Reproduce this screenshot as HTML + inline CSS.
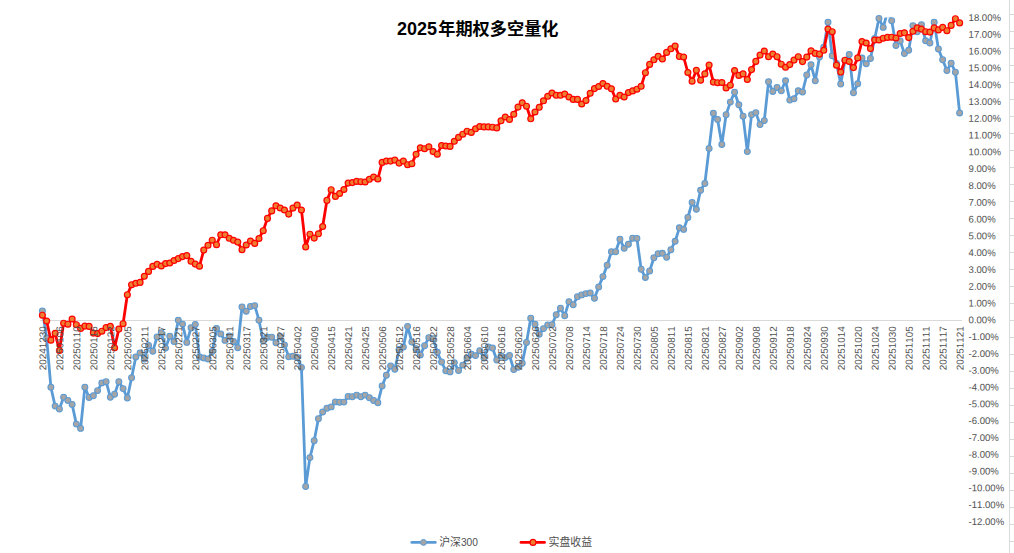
<!DOCTYPE html><html><head><meta charset="utf-8"><title>2025年期权多空量化</title><style>html,body{margin:0;padding:0;background:#fff;}svg{display:block;}.ax{font-family:"Liberation Sans","Noto Sans CJK SC",sans-serif;fill:#505050;font-kerning:none;}</style></head><body>
<svg width="1014" height="553" viewBox="0 0 1014 553">
<rect x="0" y="0" width="1014" height="553" fill="#fff"/>
<defs><clipPath id="pc"><rect x="0" y="17.4" width="1014" height="535.6"/></clipPath></defs>
<g stroke="#d9d9d9" stroke-width="1" fill="none" shape-rendering="crispEdges">
<line x1="1009.5" y1="0" x2="1009.5" y2="553"/>
<path d="M1010 14.5H1014M1010 31.5H1014M1010 48.5H1014M1010 65.5H1014M1010 82.5H1014M1010 99.5H1014M1010 116.5H1014M1010 133.5H1014M1010 150.5H1014M1010 167.5H1014M1010 184.5H1014M1010 201.5H1014M1010 218.5H1014M1010 235.5H1014M1010 252.5H1014M1010 269.5H1014M1010 286.5H1014M1010 303.5H1014M1010 320.5H1014M1010 337.5H1014M1010 354.5H1014M1010 371.5H1014M1010 388.5H1014M1010 405.5H1014M1010 422.5H1014M1010 439.5H1014M1010 456.5H1014M1010 473.5H1014M1010 490.5H1014M1010 507.5H1014M1010 524.5H1014M1010 541.5H1014"/>
<line x1="40.3" y1="320.5" x2="961.9" y2="320.5"/>
</g>
<polyline clip-path="url(#pc)" points="42.4,310.9 46.65,338 50.89,387.2 55.14,406.1 59.39,409 63.63,397.2 67.88,400.4 72.13,404.4 76.37,424.1 80.62,428.4 84.87,387.2 89.11,397.5 93.36,395.8 97.6,390.6 101.85,382.9 106.1,381.7 110.34,397.2 114.59,394.2 118.84,381.7 123.08,388.6 127.33,398 131.58,377.8 135.82,357 140.07,352.9 144.32,359 148.56,345.4 152.81,351.3 157.06,336.9 161.3,332.8 165.55,348.1 169.8,336.3 174.04,341.6 178.29,320.3 182.53,324.1 186.78,342.4 191.03,327.8 195.27,324.4 199.52,357 203.77,358 208.01,359 212.26,351.5 216.51,328.5 220.75,333.9 225,340.4 229.25,336 233.49,341.4 237.74,347.7 241.99,307 246.23,311.2 250.48,306.5 254.73,305.6 258.97,320.2 263.22,341 267.46,337.3 271.71,337.3 275.96,342.7 280.2,336.4 284.45,344.9 288.7,356.7 292.94,356.3 297.19,357.4 301.44,367.4 305.68,486.5 309.93,457.6 314.18,440.7 318.42,418.8 322.67,412 326.92,408.2 331.16,406.9 335.41,401.9 339.65,402.3 343.9,402.1 348.15,396.4 352.39,396.8 356.64,395.1 360.89,396.7 365.13,395.1 369.38,397.8 373.63,400.5 377.87,402.8 382.12,385.9 386.37,375.2 390.61,366 394.86,369.2 399.11,349.5 403.35,347.1 407.6,326.4 411.85,342 416.09,348.8 420.34,354.9 424.58,345.7 428.83,337.7 433.08,338.6 437.32,352.2 441.57,362 445.82,370.8 450.06,371.9 454.31,362.6 458.56,370.5 462.8,365.1 467.05,358.3 471.3,354.2 475.54,355.6 479.79,350.8 484.04,358 488.28,346.9 492.53,348 496.78,360 501.02,356 505.27,357.6 509.51,355.5 513.76,369.5 518.01,367.3 522.25,363.3 526.5,342.4 530.75,318.2 534.99,324.2 539.24,334.3 543.49,328.6 547.73,325 551.98,324.7 556.23,314.7 560.47,308.2 564.72,315.7 568.97,301.7 573.21,304.7 577.46,296.8 581.71,294.9 585.95,293.6 590.2,293 594.45,298.2 598.69,286.9 602.94,276.6 607.18,265.2 611.43,251.7 615.68,251.7 619.92,239.2 624.17,248.3 628.42,244.3 632.66,238.2 636.91,238.4 641.16,269.2 645.4,277.6 649.65,271 653.9,257.7 658.14,253.7 662.39,253.3 666.64,257.3 670.88,249.7 675.13,241.3 679.38,227.8 683.62,229.4 687.87,217.5 692.11,202.5 696.36,209.3 700.61,190.3 704.85,183.5 709.1,148.4 713.35,113.2 717.59,119.5 721.84,144.5 726.09,114.7 730.33,102.1 734.58,92.2 738.83,104.8 743.07,116.2 747.32,151.6 751.57,114.7 755.81,112.6 760.06,124.5 764.3,120.6 768.55,81.7 772.8,91.4 777.04,87.4 781.29,90.8 785.54,80.8 789.78,100.1 794.03,98.8 798.28,90.8 802.52,91.9 806.77,75 811.02,64.8 815.26,80.7 819.51,57 823.76,47.3 828,22.3 832.25,55.8 836.5,63.5 840.74,84 844.99,60.4 849.24,54.6 853.48,92.7 857.73,83.8 861.97,58.1 866.22,63.8 870.47,58.5 874.71,38.5 878.96,18.5 883.21,27.4 887.45,12 891.7,20.7 895.95,45.4 900.19,41 904.44,53.6 908.69,50.3 912.93,25.6 917.18,31.7 921.43,24.7 925.67,40.8 929.92,43 934.16,22.3 938.41,49 942.66,59.7 946.9,70.6 951.15,63.2 955.4,72.2 959.64,112.9" fill="none" stroke="#5b9bd5" stroke-width="2.8" stroke-linejoin="round" stroke-linecap="round"/>
<g fill="#a5a5a5" stroke="#5b9bd5" stroke-width="1.05">
<circle cx="42.4" cy="310.9" r="2.95"/>
<circle cx="46.65" cy="338" r="2.95"/>
<circle cx="50.89" cy="387.2" r="2.95"/>
<circle cx="55.14" cy="406.1" r="2.95"/>
<circle cx="59.39" cy="409" r="2.95"/>
<circle cx="63.63" cy="397.2" r="2.95"/>
<circle cx="67.88" cy="400.4" r="2.95"/>
<circle cx="72.13" cy="404.4" r="2.95"/>
<circle cx="76.37" cy="424.1" r="2.95"/>
<circle cx="80.62" cy="428.4" r="2.95"/>
<circle cx="84.87" cy="387.2" r="2.95"/>
<circle cx="89.11" cy="397.5" r="2.95"/>
<circle cx="93.36" cy="395.8" r="2.95"/>
<circle cx="97.6" cy="390.6" r="2.95"/>
<circle cx="101.85" cy="382.9" r="2.95"/>
<circle cx="106.1" cy="381.7" r="2.95"/>
<circle cx="110.34" cy="397.2" r="2.95"/>
<circle cx="114.59" cy="394.2" r="2.95"/>
<circle cx="118.84" cy="381.7" r="2.95"/>
<circle cx="123.08" cy="388.6" r="2.95"/>
<circle cx="127.33" cy="398" r="2.95"/>
<circle cx="131.58" cy="377.8" r="2.95"/>
<circle cx="135.82" cy="357" r="2.95"/>
<circle cx="140.07" cy="352.9" r="2.95"/>
<circle cx="144.32" cy="359" r="2.95"/>
<circle cx="148.56" cy="345.4" r="2.95"/>
<circle cx="152.81" cy="351.3" r="2.95"/>
<circle cx="157.06" cy="336.9" r="2.95"/>
<circle cx="161.3" cy="332.8" r="2.95"/>
<circle cx="165.55" cy="348.1" r="2.95"/>
<circle cx="169.8" cy="336.3" r="2.95"/>
<circle cx="174.04" cy="341.6" r="2.95"/>
<circle cx="178.29" cy="320.3" r="2.95"/>
<circle cx="182.53" cy="324.1" r="2.95"/>
<circle cx="186.78" cy="342.4" r="2.95"/>
<circle cx="191.03" cy="327.8" r="2.95"/>
<circle cx="195.27" cy="324.4" r="2.95"/>
<circle cx="199.52" cy="357" r="2.95"/>
<circle cx="203.77" cy="358" r="2.95"/>
<circle cx="208.01" cy="359" r="2.95"/>
<circle cx="212.26" cy="351.5" r="2.95"/>
<circle cx="216.51" cy="328.5" r="2.95"/>
<circle cx="220.75" cy="333.9" r="2.95"/>
<circle cx="225" cy="340.4" r="2.95"/>
<circle cx="229.25" cy="336" r="2.95"/>
<circle cx="233.49" cy="341.4" r="2.95"/>
<circle cx="237.74" cy="347.7" r="2.95"/>
<circle cx="241.99" cy="307" r="2.95"/>
<circle cx="246.23" cy="311.2" r="2.95"/>
<circle cx="250.48" cy="306.5" r="2.95"/>
<circle cx="254.73" cy="305.6" r="2.95"/>
<circle cx="258.97" cy="320.2" r="2.95"/>
<circle cx="263.22" cy="341" r="2.95"/>
<circle cx="267.46" cy="337.3" r="2.95"/>
<circle cx="271.71" cy="337.3" r="2.95"/>
<circle cx="275.96" cy="342.7" r="2.95"/>
<circle cx="280.2" cy="336.4" r="2.95"/>
<circle cx="284.45" cy="344.9" r="2.95"/>
<circle cx="288.7" cy="356.7" r="2.95"/>
<circle cx="292.94" cy="356.3" r="2.95"/>
<circle cx="297.19" cy="357.4" r="2.95"/>
<circle cx="301.44" cy="367.4" r="2.95"/>
<circle cx="305.68" cy="486.5" r="2.95"/>
<circle cx="309.93" cy="457.6" r="2.95"/>
<circle cx="314.18" cy="440.7" r="2.95"/>
<circle cx="318.42" cy="418.8" r="2.95"/>
<circle cx="322.67" cy="412" r="2.95"/>
<circle cx="326.92" cy="408.2" r="2.95"/>
<circle cx="331.16" cy="406.9" r="2.95"/>
<circle cx="335.41" cy="401.9" r="2.95"/>
<circle cx="339.65" cy="402.3" r="2.95"/>
<circle cx="343.9" cy="402.1" r="2.95"/>
<circle cx="348.15" cy="396.4" r="2.95"/>
<circle cx="352.39" cy="396.8" r="2.95"/>
<circle cx="356.64" cy="395.1" r="2.95"/>
<circle cx="360.89" cy="396.7" r="2.95"/>
<circle cx="365.13" cy="395.1" r="2.95"/>
<circle cx="369.38" cy="397.8" r="2.95"/>
<circle cx="373.63" cy="400.5" r="2.95"/>
<circle cx="377.87" cy="402.8" r="2.95"/>
<circle cx="382.12" cy="385.9" r="2.95"/>
<circle cx="386.37" cy="375.2" r="2.95"/>
<circle cx="390.61" cy="366" r="2.95"/>
<circle cx="394.86" cy="369.2" r="2.95"/>
<circle cx="399.11" cy="349.5" r="2.95"/>
<circle cx="403.35" cy="347.1" r="2.95"/>
<circle cx="407.6" cy="326.4" r="2.95"/>
<circle cx="411.85" cy="342" r="2.95"/>
<circle cx="416.09" cy="348.8" r="2.95"/>
<circle cx="420.34" cy="354.9" r="2.95"/>
<circle cx="424.58" cy="345.7" r="2.95"/>
<circle cx="428.83" cy="337.7" r="2.95"/>
<circle cx="433.08" cy="338.6" r="2.95"/>
<circle cx="437.32" cy="352.2" r="2.95"/>
<circle cx="441.57" cy="362" r="2.95"/>
<circle cx="445.82" cy="370.8" r="2.95"/>
<circle cx="450.06" cy="371.9" r="2.95"/>
<circle cx="454.31" cy="362.6" r="2.95"/>
<circle cx="458.56" cy="370.5" r="2.95"/>
<circle cx="462.8" cy="365.1" r="2.95"/>
<circle cx="467.05" cy="358.3" r="2.95"/>
<circle cx="471.3" cy="354.2" r="2.95"/>
<circle cx="475.54" cy="355.6" r="2.95"/>
<circle cx="479.79" cy="350.8" r="2.95"/>
<circle cx="484.04" cy="358" r="2.95"/>
<circle cx="488.28" cy="346.9" r="2.95"/>
<circle cx="492.53" cy="348" r="2.95"/>
<circle cx="496.78" cy="360" r="2.95"/>
<circle cx="501.02" cy="356" r="2.95"/>
<circle cx="505.27" cy="357.6" r="2.95"/>
<circle cx="509.51" cy="355.5" r="2.95"/>
<circle cx="513.76" cy="369.5" r="2.95"/>
<circle cx="518.01" cy="367.3" r="2.95"/>
<circle cx="522.25" cy="363.3" r="2.95"/>
<circle cx="526.5" cy="342.4" r="2.95"/>
<circle cx="530.75" cy="318.2" r="2.95"/>
<circle cx="534.99" cy="324.2" r="2.95"/>
<circle cx="539.24" cy="334.3" r="2.95"/>
<circle cx="543.49" cy="328.6" r="2.95"/>
<circle cx="547.73" cy="325" r="2.95"/>
<circle cx="551.98" cy="324.7" r="2.95"/>
<circle cx="556.23" cy="314.7" r="2.95"/>
<circle cx="560.47" cy="308.2" r="2.95"/>
<circle cx="564.72" cy="315.7" r="2.95"/>
<circle cx="568.97" cy="301.7" r="2.95"/>
<circle cx="573.21" cy="304.7" r="2.95"/>
<circle cx="577.46" cy="296.8" r="2.95"/>
<circle cx="581.71" cy="294.9" r="2.95"/>
<circle cx="585.95" cy="293.6" r="2.95"/>
<circle cx="590.2" cy="293" r="2.95"/>
<circle cx="594.45" cy="298.2" r="2.95"/>
<circle cx="598.69" cy="286.9" r="2.95"/>
<circle cx="602.94" cy="276.6" r="2.95"/>
<circle cx="607.18" cy="265.2" r="2.95"/>
<circle cx="611.43" cy="251.7" r="2.95"/>
<circle cx="615.68" cy="251.7" r="2.95"/>
<circle cx="619.92" cy="239.2" r="2.95"/>
<circle cx="624.17" cy="248.3" r="2.95"/>
<circle cx="628.42" cy="244.3" r="2.95"/>
<circle cx="632.66" cy="238.2" r="2.95"/>
<circle cx="636.91" cy="238.4" r="2.95"/>
<circle cx="641.16" cy="269.2" r="2.95"/>
<circle cx="645.4" cy="277.6" r="2.95"/>
<circle cx="649.65" cy="271" r="2.95"/>
<circle cx="653.9" cy="257.7" r="2.95"/>
<circle cx="658.14" cy="253.7" r="2.95"/>
<circle cx="662.39" cy="253.3" r="2.95"/>
<circle cx="666.64" cy="257.3" r="2.95"/>
<circle cx="670.88" cy="249.7" r="2.95"/>
<circle cx="675.13" cy="241.3" r="2.95"/>
<circle cx="679.38" cy="227.8" r="2.95"/>
<circle cx="683.62" cy="229.4" r="2.95"/>
<circle cx="687.87" cy="217.5" r="2.95"/>
<circle cx="692.11" cy="202.5" r="2.95"/>
<circle cx="696.36" cy="209.3" r="2.95"/>
<circle cx="700.61" cy="190.3" r="2.95"/>
<circle cx="704.85" cy="183.5" r="2.95"/>
<circle cx="709.1" cy="148.4" r="2.95"/>
<circle cx="713.35" cy="113.2" r="2.95"/>
<circle cx="717.59" cy="119.5" r="2.95"/>
<circle cx="721.84" cy="144.5" r="2.95"/>
<circle cx="726.09" cy="114.7" r="2.95"/>
<circle cx="730.33" cy="102.1" r="2.95"/>
<circle cx="734.58" cy="92.2" r="2.95"/>
<circle cx="738.83" cy="104.8" r="2.95"/>
<circle cx="743.07" cy="116.2" r="2.95"/>
<circle cx="747.32" cy="151.6" r="2.95"/>
<circle cx="751.57" cy="114.7" r="2.95"/>
<circle cx="755.81" cy="112.6" r="2.95"/>
<circle cx="760.06" cy="124.5" r="2.95"/>
<circle cx="764.3" cy="120.6" r="2.95"/>
<circle cx="768.55" cy="81.7" r="2.95"/>
<circle cx="772.8" cy="91.4" r="2.95"/>
<circle cx="777.04" cy="87.4" r="2.95"/>
<circle cx="781.29" cy="90.8" r="2.95"/>
<circle cx="785.54" cy="80.8" r="2.95"/>
<circle cx="789.78" cy="100.1" r="2.95"/>
<circle cx="794.03" cy="98.8" r="2.95"/>
<circle cx="798.28" cy="90.8" r="2.95"/>
<circle cx="802.52" cy="91.9" r="2.95"/>
<circle cx="806.77" cy="75" r="2.95"/>
<circle cx="811.02" cy="64.8" r="2.95"/>
<circle cx="815.26" cy="80.7" r="2.95"/>
<circle cx="819.51" cy="57" r="2.95"/>
<circle cx="823.76" cy="47.3" r="2.95"/>
<circle cx="828" cy="22.3" r="2.95"/>
<circle cx="832.25" cy="55.8" r="2.95"/>
<circle cx="836.5" cy="63.5" r="2.95"/>
<circle cx="840.74" cy="84" r="2.95"/>
<circle cx="844.99" cy="60.4" r="2.95"/>
<circle cx="849.24" cy="54.6" r="2.95"/>
<circle cx="853.48" cy="92.7" r="2.95"/>
<circle cx="857.73" cy="83.8" r="2.95"/>
<circle cx="861.97" cy="58.1" r="2.95"/>
<circle cx="866.22" cy="63.8" r="2.95"/>
<circle cx="870.47" cy="58.5" r="2.95"/>
<circle cx="874.71" cy="38.5" r="2.95"/>
<circle cx="878.96" cy="18.5" r="2.95"/>
<circle cx="883.21" cy="27.4" r="2.95"/>
<circle cx="891.7" cy="20.7" r="2.95"/>
<circle cx="895.95" cy="45.4" r="2.95"/>
<circle cx="900.19" cy="41" r="2.95"/>
<circle cx="904.44" cy="53.6" r="2.95"/>
<circle cx="908.69" cy="50.3" r="2.95"/>
<circle cx="912.93" cy="25.6" r="2.95"/>
<circle cx="917.18" cy="31.7" r="2.95"/>
<circle cx="921.43" cy="24.7" r="2.95"/>
<circle cx="925.67" cy="40.8" r="2.95"/>
<circle cx="929.92" cy="43" r="2.95"/>
<circle cx="934.16" cy="22.3" r="2.95"/>
<circle cx="938.41" cy="49" r="2.95"/>
<circle cx="942.66" cy="59.7" r="2.95"/>
<circle cx="946.9" cy="70.6" r="2.95"/>
<circle cx="951.15" cy="63.2" r="2.95"/>
<circle cx="955.4" cy="72.2" r="2.95"/>
<circle cx="959.64" cy="112.9" r="2.95"/>
</g>
<polyline clip-path="url(#pc)" points="42.4,315.2 46.65,321 50.89,340.2 55.14,333.3 59.39,350.5 63.63,323.2 67.88,324.2 72.13,319 76.37,324.7 80.62,328.4 84.87,326.1 89.11,326.4 93.36,333.1 97.6,333.6 101.85,331.2 106.1,327.6 110.34,326.3 114.59,347.8 118.84,329.1 123.08,323.7 127.33,294.7 131.58,284.7 135.82,283.3 140.07,282.4 144.32,276.3 148.56,271.4 152.81,266.4 157.06,264.3 161.3,266 165.55,263.6 169.8,263 174.04,260.5 178.29,258.6 182.53,256.6 186.78,255.6 191.03,261.3 195.27,264.1 199.52,266.2 203.77,250.1 208.01,245.3 212.26,240.2 216.51,244.7 220.75,234.8 225,234.8 229.25,238.3 233.49,240.3 237.74,242.1 241.99,249.7 246.23,245 250.48,241 254.73,243.4 258.97,238.5 263.22,230.7 267.46,218.4 271.71,210.9 275.96,205.8 280.2,208 284.45,210 288.7,214.1 292.94,208.1 297.19,205 301.44,210 305.68,246.9 309.93,234.2 314.18,238.1 318.42,233.8 322.67,226.5 326.92,200.4 331.16,189.7 335.41,196.4 339.65,193.5 343.9,189.5 348.15,183.1 352.39,182.6 356.64,181.4 360.89,181.7 365.13,182 369.38,179.3 373.63,177 377.87,179 382.12,162.4 386.37,161.1 390.61,161.1 394.86,160.1 399.11,163.1 403.35,161.1 407.6,164.7 411.85,163.7 416.09,154.3 420.34,147.8 424.58,148.7 428.83,146.8 433.08,151.6 437.32,154.2 441.57,145.5 445.82,146 450.06,146.4 454.31,141.3 458.56,137.4 462.8,134.2 467.05,131.2 471.3,132.4 475.54,128.8 479.79,126.5 484.04,126.9 488.28,126.9 492.53,127.2 496.78,127.9 501.02,120.8 505.27,117 509.51,119.5 513.76,114.3 518.01,107.1 522.25,102.8 526.5,106.2 530.75,118.8 534.99,112 539.24,107.3 543.49,100.8 547.73,96.3 551.98,93 556.23,95.3 560.47,95.3 564.72,94 568.97,97 573.21,99.4 577.46,99.4 581.71,104 585.95,100.5 590.2,93.3 594.45,88.6 598.69,86.5 602.94,83.5 607.18,86.3 611.43,88.8 615.68,99 619.92,95.3 624.17,97 628.42,92.6 632.66,90.9 636.91,89.2 641.16,86.3 645.4,72.7 649.65,64.4 653.9,59.8 658.14,56.3 662.39,59 666.64,52.4 670.88,48.8 675.13,46.1 679.38,56.4 683.62,57 687.87,72.5 692.11,81.2 696.36,70.3 700.61,80.2 704.85,73.9 709.1,65.1 713.35,82.1 717.59,82.7 721.84,82.5 726.09,87.9 730.33,85.2 734.58,70.5 738.83,75.4 743.07,73.9 747.32,79.5 751.57,69.6 755.81,61.4 760.06,55.1 764.3,51 768.55,56.7 772.8,54 777.04,56.7 781.29,64.2 785.54,67.3 789.78,64.6 794.03,60.1 798.28,56.7 802.52,61.6 806.77,57.1 811.02,50.9 815.26,53.4 819.51,54.1 823.76,50.3 828,29 832.25,31.7 836.5,65.2 840.74,72.1 844.99,60.2 849.24,61.5 853.48,67.6 857.73,57.9 861.97,41.5 866.22,43 870.47,48.6 874.71,40 878.96,40 883.21,38.2 887.45,37.4 891.7,37.2 895.95,38 900.19,33.5 904.44,32.8 908.69,37.6 912.93,31.3 917.18,27.9 921.43,29.1 925.67,31.7 929.92,32.1 934.16,27.9 938.41,29.9 942.66,27.4 946.9,30.7 951.15,25.4 955.4,18.7 959.64,22.9" fill="none" stroke="#ff0000" stroke-width="2.8" stroke-linejoin="round" stroke-linecap="round"/>
<g fill="#ed7d31" stroke="#ff0000" stroke-width="1.2">
<circle cx="42.4" cy="315.2" r="2.95"/>
<circle cx="46.65" cy="321" r="2.95"/>
<circle cx="50.89" cy="340.2" r="2.95"/>
<circle cx="55.14" cy="333.3" r="2.95"/>
<circle cx="59.39" cy="350.5" r="2.95"/>
<circle cx="63.63" cy="323.2" r="2.95"/>
<circle cx="67.88" cy="324.2" r="2.95"/>
<circle cx="72.13" cy="319" r="2.95"/>
<circle cx="76.37" cy="324.7" r="2.95"/>
<circle cx="80.62" cy="328.4" r="2.95"/>
<circle cx="84.87" cy="326.1" r="2.95"/>
<circle cx="89.11" cy="326.4" r="2.95"/>
<circle cx="93.36" cy="333.1" r="2.95"/>
<circle cx="97.6" cy="333.6" r="2.95"/>
<circle cx="101.85" cy="331.2" r="2.95"/>
<circle cx="106.1" cy="327.6" r="2.95"/>
<circle cx="110.34" cy="326.3" r="2.95"/>
<circle cx="114.59" cy="347.8" r="2.95"/>
<circle cx="118.84" cy="329.1" r="2.95"/>
<circle cx="123.08" cy="323.7" r="2.95"/>
<circle cx="127.33" cy="294.7" r="2.95"/>
<circle cx="131.58" cy="284.7" r="2.95"/>
<circle cx="135.82" cy="283.3" r="2.95"/>
<circle cx="140.07" cy="282.4" r="2.95"/>
<circle cx="144.32" cy="276.3" r="2.95"/>
<circle cx="148.56" cy="271.4" r="2.95"/>
<circle cx="152.81" cy="266.4" r="2.95"/>
<circle cx="157.06" cy="264.3" r="2.95"/>
<circle cx="161.3" cy="266" r="2.95"/>
<circle cx="165.55" cy="263.6" r="2.95"/>
<circle cx="169.8" cy="263" r="2.95"/>
<circle cx="174.04" cy="260.5" r="2.95"/>
<circle cx="178.29" cy="258.6" r="2.95"/>
<circle cx="182.53" cy="256.6" r="2.95"/>
<circle cx="186.78" cy="255.6" r="2.95"/>
<circle cx="191.03" cy="261.3" r="2.95"/>
<circle cx="195.27" cy="264.1" r="2.95"/>
<circle cx="199.52" cy="266.2" r="2.95"/>
<circle cx="203.77" cy="250.1" r="2.95"/>
<circle cx="208.01" cy="245.3" r="2.95"/>
<circle cx="212.26" cy="240.2" r="2.95"/>
<circle cx="216.51" cy="244.7" r="2.95"/>
<circle cx="220.75" cy="234.8" r="2.95"/>
<circle cx="225" cy="234.8" r="2.95"/>
<circle cx="229.25" cy="238.3" r="2.95"/>
<circle cx="233.49" cy="240.3" r="2.95"/>
<circle cx="237.74" cy="242.1" r="2.95"/>
<circle cx="241.99" cy="249.7" r="2.95"/>
<circle cx="246.23" cy="245" r="2.95"/>
<circle cx="250.48" cy="241" r="2.95"/>
<circle cx="254.73" cy="243.4" r="2.95"/>
<circle cx="258.97" cy="238.5" r="2.95"/>
<circle cx="263.22" cy="230.7" r="2.95"/>
<circle cx="267.46" cy="218.4" r="2.95"/>
<circle cx="271.71" cy="210.9" r="2.95"/>
<circle cx="275.96" cy="205.8" r="2.95"/>
<circle cx="280.2" cy="208" r="2.95"/>
<circle cx="284.45" cy="210" r="2.95"/>
<circle cx="288.7" cy="214.1" r="2.95"/>
<circle cx="292.94" cy="208.1" r="2.95"/>
<circle cx="297.19" cy="205" r="2.95"/>
<circle cx="301.44" cy="210" r="2.95"/>
<circle cx="305.68" cy="246.9" r="2.95"/>
<circle cx="309.93" cy="234.2" r="2.95"/>
<circle cx="314.18" cy="238.1" r="2.95"/>
<circle cx="318.42" cy="233.8" r="2.95"/>
<circle cx="322.67" cy="226.5" r="2.95"/>
<circle cx="326.92" cy="200.4" r="2.95"/>
<circle cx="331.16" cy="189.7" r="2.95"/>
<circle cx="335.41" cy="196.4" r="2.95"/>
<circle cx="339.65" cy="193.5" r="2.95"/>
<circle cx="343.9" cy="189.5" r="2.95"/>
<circle cx="348.15" cy="183.1" r="2.95"/>
<circle cx="352.39" cy="182.6" r="2.95"/>
<circle cx="356.64" cy="181.4" r="2.95"/>
<circle cx="360.89" cy="181.7" r="2.95"/>
<circle cx="365.13" cy="182" r="2.95"/>
<circle cx="369.38" cy="179.3" r="2.95"/>
<circle cx="373.63" cy="177" r="2.95"/>
<circle cx="377.87" cy="179" r="2.95"/>
<circle cx="382.12" cy="162.4" r="2.95"/>
<circle cx="386.37" cy="161.1" r="2.95"/>
<circle cx="390.61" cy="161.1" r="2.95"/>
<circle cx="394.86" cy="160.1" r="2.95"/>
<circle cx="399.11" cy="163.1" r="2.95"/>
<circle cx="403.35" cy="161.1" r="2.95"/>
<circle cx="407.6" cy="164.7" r="2.95"/>
<circle cx="411.85" cy="163.7" r="2.95"/>
<circle cx="416.09" cy="154.3" r="2.95"/>
<circle cx="420.34" cy="147.8" r="2.95"/>
<circle cx="424.58" cy="148.7" r="2.95"/>
<circle cx="428.83" cy="146.8" r="2.95"/>
<circle cx="433.08" cy="151.6" r="2.95"/>
<circle cx="437.32" cy="154.2" r="2.95"/>
<circle cx="441.57" cy="145.5" r="2.95"/>
<circle cx="445.82" cy="146" r="2.95"/>
<circle cx="450.06" cy="146.4" r="2.95"/>
<circle cx="454.31" cy="141.3" r="2.95"/>
<circle cx="458.56" cy="137.4" r="2.95"/>
<circle cx="462.8" cy="134.2" r="2.95"/>
<circle cx="467.05" cy="131.2" r="2.95"/>
<circle cx="471.3" cy="132.4" r="2.95"/>
<circle cx="475.54" cy="128.8" r="2.95"/>
<circle cx="479.79" cy="126.5" r="2.95"/>
<circle cx="484.04" cy="126.9" r="2.95"/>
<circle cx="488.28" cy="126.9" r="2.95"/>
<circle cx="492.53" cy="127.2" r="2.95"/>
<circle cx="496.78" cy="127.9" r="2.95"/>
<circle cx="501.02" cy="120.8" r="2.95"/>
<circle cx="505.27" cy="117" r="2.95"/>
<circle cx="509.51" cy="119.5" r="2.95"/>
<circle cx="513.76" cy="114.3" r="2.95"/>
<circle cx="518.01" cy="107.1" r="2.95"/>
<circle cx="522.25" cy="102.8" r="2.95"/>
<circle cx="526.5" cy="106.2" r="2.95"/>
<circle cx="530.75" cy="118.8" r="2.95"/>
<circle cx="534.99" cy="112" r="2.95"/>
<circle cx="539.24" cy="107.3" r="2.95"/>
<circle cx="543.49" cy="100.8" r="2.95"/>
<circle cx="547.73" cy="96.3" r="2.95"/>
<circle cx="551.98" cy="93" r="2.95"/>
<circle cx="556.23" cy="95.3" r="2.95"/>
<circle cx="560.47" cy="95.3" r="2.95"/>
<circle cx="564.72" cy="94" r="2.95"/>
<circle cx="568.97" cy="97" r="2.95"/>
<circle cx="573.21" cy="99.4" r="2.95"/>
<circle cx="577.46" cy="99.4" r="2.95"/>
<circle cx="581.71" cy="104" r="2.95"/>
<circle cx="585.95" cy="100.5" r="2.95"/>
<circle cx="590.2" cy="93.3" r="2.95"/>
<circle cx="594.45" cy="88.6" r="2.95"/>
<circle cx="598.69" cy="86.5" r="2.95"/>
<circle cx="602.94" cy="83.5" r="2.95"/>
<circle cx="607.18" cy="86.3" r="2.95"/>
<circle cx="611.43" cy="88.8" r="2.95"/>
<circle cx="615.68" cy="99" r="2.95"/>
<circle cx="619.92" cy="95.3" r="2.95"/>
<circle cx="624.17" cy="97" r="2.95"/>
<circle cx="628.42" cy="92.6" r="2.95"/>
<circle cx="632.66" cy="90.9" r="2.95"/>
<circle cx="636.91" cy="89.2" r="2.95"/>
<circle cx="641.16" cy="86.3" r="2.95"/>
<circle cx="645.4" cy="72.7" r="2.95"/>
<circle cx="649.65" cy="64.4" r="2.95"/>
<circle cx="653.9" cy="59.8" r="2.95"/>
<circle cx="658.14" cy="56.3" r="2.95"/>
<circle cx="662.39" cy="59" r="2.95"/>
<circle cx="666.64" cy="52.4" r="2.95"/>
<circle cx="670.88" cy="48.8" r="2.95"/>
<circle cx="675.13" cy="46.1" r="2.95"/>
<circle cx="679.38" cy="56.4" r="2.95"/>
<circle cx="683.62" cy="57" r="2.95"/>
<circle cx="687.87" cy="72.5" r="2.95"/>
<circle cx="692.11" cy="81.2" r="2.95"/>
<circle cx="696.36" cy="70.3" r="2.95"/>
<circle cx="700.61" cy="80.2" r="2.95"/>
<circle cx="704.85" cy="73.9" r="2.95"/>
<circle cx="709.1" cy="65.1" r="2.95"/>
<circle cx="713.35" cy="82.1" r="2.95"/>
<circle cx="717.59" cy="82.7" r="2.95"/>
<circle cx="721.84" cy="82.5" r="2.95"/>
<circle cx="726.09" cy="87.9" r="2.95"/>
<circle cx="730.33" cy="85.2" r="2.95"/>
<circle cx="734.58" cy="70.5" r="2.95"/>
<circle cx="738.83" cy="75.4" r="2.95"/>
<circle cx="743.07" cy="73.9" r="2.95"/>
<circle cx="747.32" cy="79.5" r="2.95"/>
<circle cx="751.57" cy="69.6" r="2.95"/>
<circle cx="755.81" cy="61.4" r="2.95"/>
<circle cx="760.06" cy="55.1" r="2.95"/>
<circle cx="764.3" cy="51" r="2.95"/>
<circle cx="768.55" cy="56.7" r="2.95"/>
<circle cx="772.8" cy="54" r="2.95"/>
<circle cx="777.04" cy="56.7" r="2.95"/>
<circle cx="781.29" cy="64.2" r="2.95"/>
<circle cx="785.54" cy="67.3" r="2.95"/>
<circle cx="789.78" cy="64.6" r="2.95"/>
<circle cx="794.03" cy="60.1" r="2.95"/>
<circle cx="798.28" cy="56.7" r="2.95"/>
<circle cx="802.52" cy="61.6" r="2.95"/>
<circle cx="806.77" cy="57.1" r="2.95"/>
<circle cx="811.02" cy="50.9" r="2.95"/>
<circle cx="815.26" cy="53.4" r="2.95"/>
<circle cx="819.51" cy="54.1" r="2.95"/>
<circle cx="823.76" cy="50.3" r="2.95"/>
<circle cx="828" cy="29" r="2.95"/>
<circle cx="832.25" cy="31.7" r="2.95"/>
<circle cx="836.5" cy="65.2" r="2.95"/>
<circle cx="840.74" cy="72.1" r="2.95"/>
<circle cx="844.99" cy="60.2" r="2.95"/>
<circle cx="849.24" cy="61.5" r="2.95"/>
<circle cx="853.48" cy="67.6" r="2.95"/>
<circle cx="857.73" cy="57.9" r="2.95"/>
<circle cx="861.97" cy="41.5" r="2.95"/>
<circle cx="866.22" cy="43" r="2.95"/>
<circle cx="870.47" cy="48.6" r="2.95"/>
<circle cx="874.71" cy="40" r="2.95"/>
<circle cx="878.96" cy="40" r="2.95"/>
<circle cx="883.21" cy="38.2" r="2.95"/>
<circle cx="887.45" cy="37.4" r="2.95"/>
<circle cx="891.7" cy="37.2" r="2.95"/>
<circle cx="895.95" cy="38" r="2.95"/>
<circle cx="900.19" cy="33.5" r="2.95"/>
<circle cx="904.44" cy="32.8" r="2.95"/>
<circle cx="908.69" cy="37.6" r="2.95"/>
<circle cx="912.93" cy="31.3" r="2.95"/>
<circle cx="917.18" cy="27.9" r="2.95"/>
<circle cx="921.43" cy="29.1" r="2.95"/>
<circle cx="925.67" cy="31.7" r="2.95"/>
<circle cx="929.92" cy="32.1" r="2.95"/>
<circle cx="934.16" cy="27.9" r="2.95"/>
<circle cx="938.41" cy="29.9" r="2.95"/>
<circle cx="942.66" cy="27.4" r="2.95"/>
<circle cx="946.9" cy="30.7" r="2.95"/>
<circle cx="951.15" cy="25.4" r="2.95"/>
<circle cx="955.4" cy="18.7" r="2.95"/>
<circle cx="959.64" cy="22.9" r="2.95"/>
</g>
<g class="ax" font-size="9.9" text-anchor="end">
<text transform="translate(46.35,326.2) rotate(-90) scale(1.0,1) rotate(0.05)">20241230</text>
<text transform="translate(63.34,326.2) rotate(-90) scale(1.0,1) rotate(0.05)">20250106</text>
<text transform="translate(80.32,326.2) rotate(-90) scale(1.0,1) rotate(0.05)">20250110</text>
<text transform="translate(97.31,326.2) rotate(-90) scale(1.0,1) rotate(0.05)">20250116</text>
<text transform="translate(114.29,326.2) rotate(-90) scale(1.0,1) rotate(0.05)">20250122</text>
<text transform="translate(131.28,326.2) rotate(-90) scale(1.0,1) rotate(0.05)">20250205</text>
<text transform="translate(148.27,326.2) rotate(-90) scale(1.0,1) rotate(0.05)">20250211</text>
<text transform="translate(165.25,326.2) rotate(-90) scale(1.0,1) rotate(0.05)">20250217</text>
<text transform="translate(182.24,326.2) rotate(-90) scale(1.0,1) rotate(0.05)">20250221</text>
<text transform="translate(199.22,326.2) rotate(-90) scale(1.0,1) rotate(0.05)">20250227</text>
<text transform="translate(216.21,326.2) rotate(-90) scale(1.0,1) rotate(0.05)">20250305</text>
<text transform="translate(233.2,326.2) rotate(-90) scale(1.0,1) rotate(0.05)">20250311</text>
<text transform="translate(250.18,326.2) rotate(-90) scale(1.0,1) rotate(0.05)">20250317</text>
<text transform="translate(267.17,326.2) rotate(-90) scale(1.0,1) rotate(0.05)">20250321</text>
<text transform="translate(284.15,326.2) rotate(-90) scale(1.0,1) rotate(0.05)">20250327</text>
<text transform="translate(301.14,326.2) rotate(-90) scale(1.0,1) rotate(0.05)">20250402</text>
<text transform="translate(318.13,326.2) rotate(-90) scale(1.0,1) rotate(0.05)">20250409</text>
<text transform="translate(335.11,326.2) rotate(-90) scale(1.0,1) rotate(0.05)">20250415</text>
<text transform="translate(352.1,326.2) rotate(-90) scale(1.0,1) rotate(0.05)">20250421</text>
<text transform="translate(369.08,326.2) rotate(-90) scale(1.0,1) rotate(0.05)">20250425</text>
<text transform="translate(386.07,326.2) rotate(-90) scale(1.0,1) rotate(0.05)">20250506</text>
<text transform="translate(403.06,326.2) rotate(-90) scale(1.0,1) rotate(0.05)">20250512</text>
<text transform="translate(420.04,326.2) rotate(-90) scale(1.0,1) rotate(0.05)">20250516</text>
<text transform="translate(437.03,326.2) rotate(-90) scale(1.0,1) rotate(0.05)">20250522</text>
<text transform="translate(454.01,326.2) rotate(-90) scale(1.0,1) rotate(0.05)">20250528</text>
<text transform="translate(471,326.2) rotate(-90) scale(1.0,1) rotate(0.05)">20250604</text>
<text transform="translate(487.99,326.2) rotate(-90) scale(1.0,1) rotate(0.05)">20250610</text>
<text transform="translate(504.97,326.2) rotate(-90) scale(1.0,1) rotate(0.05)">20250616</text>
<text transform="translate(521.96,326.2) rotate(-90) scale(1.0,1) rotate(0.05)">20250620</text>
<text transform="translate(538.94,326.2) rotate(-90) scale(1.0,1) rotate(0.05)">20250626</text>
<text transform="translate(555.93,326.2) rotate(-90) scale(1.0,1) rotate(0.05)">20250702</text>
<text transform="translate(572.92,326.2) rotate(-90) scale(1.0,1) rotate(0.05)">20250708</text>
<text transform="translate(589.9,326.2) rotate(-90) scale(1.0,1) rotate(0.05)">20250714</text>
<text transform="translate(606.89,326.2) rotate(-90) scale(1.0,1) rotate(0.05)">20250718</text>
<text transform="translate(623.87,326.2) rotate(-90) scale(1.0,1) rotate(0.05)">20250724</text>
<text transform="translate(640.86,326.2) rotate(-90) scale(1.0,1) rotate(0.05)">20250730</text>
<text transform="translate(657.85,326.2) rotate(-90) scale(1.0,1) rotate(0.05)">20250805</text>
<text transform="translate(674.83,326.2) rotate(-90) scale(1.0,1) rotate(0.05)">20250811</text>
<text transform="translate(691.82,326.2) rotate(-90) scale(1.0,1) rotate(0.05)">20250815</text>
<text transform="translate(708.8,326.2) rotate(-90) scale(1.0,1) rotate(0.05)">20250821</text>
<text transform="translate(725.79,326.2) rotate(-90) scale(1.0,1) rotate(0.05)">20250827</text>
<text transform="translate(742.78,326.2) rotate(-90) scale(1.0,1) rotate(0.05)">20250902</text>
<text transform="translate(759.76,326.2) rotate(-90) scale(1.0,1) rotate(0.05)">20250908</text>
<text transform="translate(776.75,326.2) rotate(-90) scale(1.0,1) rotate(0.05)">20250912</text>
<text transform="translate(793.73,326.2) rotate(-90) scale(1.0,1) rotate(0.05)">20250918</text>
<text transform="translate(810.72,326.2) rotate(-90) scale(1.0,1) rotate(0.05)">20250924</text>
<text transform="translate(827.71,326.2) rotate(-90) scale(1.0,1) rotate(0.05)">20250930</text>
<text transform="translate(844.69,326.2) rotate(-90) scale(1.0,1) rotate(0.05)">20251014</text>
<text transform="translate(861.68,326.2) rotate(-90) scale(1.0,1) rotate(0.05)">20251020</text>
<text transform="translate(878.66,326.2) rotate(-90) scale(1.0,1) rotate(0.05)">20251024</text>
<text transform="translate(895.65,326.2) rotate(-90) scale(1.0,1) rotate(0.05)">20251030</text>
<text transform="translate(912.64,326.2) rotate(-90) scale(1.0,1) rotate(0.05)">20251105</text>
<text transform="translate(929.62,326.2) rotate(-90) scale(1.0,1) rotate(0.05)">20251111</text>
<text transform="translate(946.61,326.2) rotate(-90) scale(1.0,1) rotate(0.05)">20251117</text>
<text transform="translate(963.59,326.2) rotate(-90) scale(1.0,1) rotate(0.05)">20251121</text>
</g>
<g class="ax" font-size="9.8">
<text transform="translate(968.6,20.91) scale(0.975,1) rotate(0.05)">18.00%</text>
<text transform="translate(968.6,37.71) scale(0.975,1) rotate(0.05)">17.00%</text>
<text transform="translate(968.6,54.51) scale(0.975,1) rotate(0.05)">16.00%</text>
<text transform="translate(968.6,71.31) scale(0.975,1) rotate(0.05)">15.00%</text>
<text transform="translate(968.6,88.11) scale(0.975,1) rotate(0.05)">14.00%</text>
<text transform="translate(968.6,104.91) scale(0.975,1) rotate(0.05)">13.00%</text>
<text transform="translate(968.6,121.71) scale(0.975,1) rotate(0.05)">12.00%</text>
<text transform="translate(968.6,138.51) scale(0.975,1) rotate(0.05)">11.00%</text>
<text transform="translate(968.6,155.31) scale(0.975,1) rotate(0.05)">10.00%</text>
<text transform="translate(968.6,172.11) scale(0.975,1) rotate(0.05)">9.00%</text>
<text transform="translate(968.6,188.91) scale(0.975,1) rotate(0.05)">8.00%</text>
<text transform="translate(968.6,205.71) scale(0.975,1) rotate(0.05)">7.00%</text>
<text transform="translate(968.6,222.51) scale(0.975,1) rotate(0.05)">6.00%</text>
<text transform="translate(968.6,239.31) scale(0.975,1) rotate(0.05)">5.00%</text>
<text transform="translate(968.6,256.11) scale(0.975,1) rotate(0.05)">4.00%</text>
<text transform="translate(968.6,272.91) scale(0.975,1) rotate(0.05)">3.00%</text>
<text transform="translate(968.6,289.71) scale(0.975,1) rotate(0.05)">2.00%</text>
<text transform="translate(968.6,306.51) scale(0.975,1) rotate(0.05)">1.00%</text>
<text transform="translate(968.6,323.31) scale(0.975,1) rotate(0.05)">0.00%</text>
<text transform="translate(968.6,340.11) scale(0.975,1) rotate(0.05)">-1.00%</text>
<text transform="translate(968.6,356.91) scale(0.975,1) rotate(0.05)">-2.00%</text>
<text transform="translate(968.6,373.71) scale(0.975,1) rotate(0.05)">-3.00%</text>
<text transform="translate(968.6,390.51) scale(0.975,1) rotate(0.05)">-4.00%</text>
<text transform="translate(968.6,407.31) scale(0.975,1) rotate(0.05)">-5.00%</text>
<text transform="translate(968.6,424.11) scale(0.975,1) rotate(0.05)">-6.00%</text>
<text transform="translate(968.6,440.91) scale(0.975,1) rotate(0.05)">-7.00%</text>
<text transform="translate(968.6,457.71) scale(0.975,1) rotate(0.05)">-8.00%</text>
<text transform="translate(968.6,474.51) scale(0.975,1) rotate(0.05)">-9.00%</text>
<text transform="translate(968.6,491.31) scale(0.975,1) rotate(0.05)">-10.00%</text>
<text transform="translate(968.6,508.11) scale(0.975,1) rotate(0.05)">-11.00%</text>
<text transform="translate(968.6,524.91) scale(0.975,1) rotate(0.05)">-12.00%</text>
</g>
<text y="35" font-family="Liberation Sans,Noto Sans CJK SC,sans-serif" font-weight="bold" fill="#000"><tspan x="397" font-size="18">2025</tspan><tspan x="438.2" font-size="17.2" font-family="Noto Sans CJK SC,sans-serif">年期权多空量化</tspan></text>
<g>
<line x1="411.8" y1="542.4" x2="435.3" y2="542.4" stroke="#5b9bd5" stroke-width="2.8" stroke-linecap="round"/>
<circle cx="423.5" cy="542.4" r="2.95" fill="#a5a5a5" stroke="#5b9bd5" stroke-width="1"/>
<line x1="521.0" y1="542.4" x2="544.5" y2="542.4" stroke="#ff0000" stroke-width="2.8" stroke-linecap="round"/>
<circle cx="533.0" cy="542.4" r="2.95" fill="#ed7d31" stroke="#ff0000" stroke-width="1.2"/>
<text class="ax" x="439.3" y="546.1" font-size="10.8">沪深<tspan font-size="10.2">300</tspan></text>
<text class="ax" x="548.5" y="546.1" font-size="10.9">实盘收益</text>
</g>
</svg></body></html>
